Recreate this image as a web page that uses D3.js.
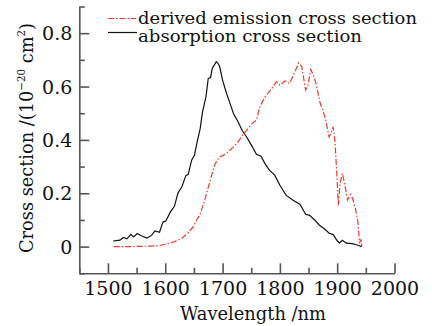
<!DOCTYPE html>
<html>
<head>
<meta charset="utf-8">
<script src="https://cdn.jsdelivr.net/npm/d3@7"></script>
<style>
  body { margin: 0; background: #fff; }
  svg text { font-family: "DejaVu Serif", "Liberation Serif", "Times New Roman", serif; fill: #111; }
</style>
</head>
<body>
<div id="chart"></div>
<script>
// Chart size
const width = 432;
const height = 326;

// Absorption cross section (black solid)
const absWave = [1509, 1521, 1527, 1533, 1540, 1545, 1551, 1559, 1568, 1576, 1582, 1590, 1596, 1601,
  1609, 1616, 1622, 1629, 1636, 1640, 1646, 1651, 1655, 1661, 1665, 1671, 1675, 1679, 1682, 1689,
  1692, 1695, 1700, 1707, 1713, 1719, 1727, 1734, 1742, 1752, 1759, 1767, 1774, 1782, 1791, 1800,
  1811, 1823, 1835, 1845, 1852, 1861, 1869, 1877, 1886, 1893, 1900, 1904, 1909, 1916, 1926, 1935, 1943];
const absVal = [0.021, 0.024, 0.034, 0.029, 0.046, 0.036, 0.049, 0.040, 0.032, 0.042, 0.059, 0.054, 0.092, 0.096,
  0.130, 0.151, 0.200, 0.224, 0.267, 0.270, 0.324, 0.343, 0.386, 0.443, 0.505, 0.561, 0.630, 0.634, 0.668, 0.693,
  0.687, 0.674, 0.624, 0.574, 0.537, 0.499, 0.468, 0.436, 0.411, 0.374, 0.346, 0.339, 0.311, 0.286, 0.268, 0.230,
  0.192, 0.174, 0.159, 0.121, 0.117, 0.099, 0.080, 0.068, 0.050, 0.045, 0.022, 0.014, 0.024, 0.013, 0.011, 0.006, 0.0];

// Derived emission cross section (red dash-dot)
const emWave = [1510, 1540, 1574, 1590, 1603, 1620, 1630, 1638, 1648, 1655, 1661, 1669, 1676, 1681, 1687,
  1695, 1707, 1719, 1727, 1735, 1742, 1751, 1759, 1765, 1774, 1779, 1788, 1794, 1800, 1809, 1817, 1826,
  1833, 1838, 1845, 1849, 1854, 1858, 1863, 1870, 1875, 1880, 1886, 1890, 1893, 1896, 1899, 1902, 1905,
  1909, 1913, 1918, 1923, 1927, 1932, 1936, 1939, 1941.5, 1943];
const emVal = [0, 0, 0.002, 0.004, 0.010, 0.022, 0.033, 0.047, 0.072, 0.100, 0.124, 0.175, 0.230, 0.268, 0.311,
  0.336, 0.349, 0.374, 0.392, 0.418, 0.436, 0.461, 0.474, 0.524, 0.561, 0.574, 0.599, 0.618, 0.605, 0.621, 0.612, 0.655,
  0.689, 0.676, 0.587, 0.605, 0.664, 0.645, 0.612, 0.540, 0.511, 0.474, 0.411, 0.430, 0.449, 0.399, 0.286, 0.155, 0.237,
  0.275, 0.236, 0.175, 0.196, 0.180, 0.140, 0.095, 0.012, 0.030, 0.0];

const xTicks = [1500, 1600, 1700, 1800, 1900, 2000];
const yTicks = [0, 0.2, 0.4, 0.6, 0.8];
const seriesNames = ["derived emission cross section", "absorption cross section"];

const x = d3.scaleLinear().domain([1450, 2000]).range([79.3, 394.5]);
const y = d3.scaleLinear().domain([-0.1, 0.9]).range([273.3, 6.5]);

const svg = d3.select("#chart").append("svg")
  .attr("width", width)
  .attr("height", height);

const axisColor = "#555";

// Axes with inward ticks
const xAxis = svg.append("g")
  .attr("transform", `translate(0,${y(-0.1)})`)
  .call(d3.axisBottom(x).tickValues(xTicks).tickSize(-10).tickSizeOuter(0).tickPadding(8).tickFormat(d3.format("d")));
svg.append("g")
  .attr("transform", `translate(0,${y(-0.1)})`)
  .call(d3.axisBottom(x).tickValues(d3.range(1450, 2000, 100)).tickSize(-5.5).tickSizeOuter(0).tickFormat(""))
  .select(".domain").remove();

const yAxis = svg.append("g")
  .attr("transform", `translate(${x(1450)},0)`)
  .call(d3.axisLeft(y).tickValues(yTicks).tickSize(-10).tickSizeOuter(0).tickPadding(7)
    .tickFormat(d => d === 0 ? "0" : d3.format(".1f")(d)));
svg.append("g")
  .attr("transform", `translate(${x(1450)},0)`)
  .call(d3.axisLeft(y).tickValues([-0.1, 0.1, 0.3, 0.5, 0.7, 0.9]).tickSize(-5.5).tickSizeOuter(0).tickFormat(""))
  .select(".domain").remove();

svg.selectAll("g").attr("font-family", null);
svg.selectAll(".domain").attr("stroke", axisColor).attr("stroke-width", 1.6);
svg.selectAll(".tick line").attr("stroke", axisColor).attr("stroke-width", 1.6);
svg.selectAll(".tick text")
  .style("font-size", "19px")
  .attr("fill", "#111");
xAxis.selectAll(".tick text").attr("dy", "0.71em");
yAxis.selectAll(".tick text").attr("dy", "0.35em");

// Curves
const line = d3.line().x(d => x(d[0])).y(d => y(d[1]));

svg.append("path")
  .datum(absWave.map((w, i) => [w, absVal[i]]))
  .attr("fill", "none")
  .attr("stroke", "#111")
  .attr("stroke-width", 1.2)
  .attr("d", line);

svg.append("path")
  .datum(emWave.map((w, i) => [w, emVal[i]]))
  .attr("fill", "none")
  .attr("stroke", "#ee3a2e")
  .attr("stroke-width", 1.2)
  .attr("stroke-dasharray", "6,2,1.5,2")
  .attr("d", line);

// Legend
const legend = svg.append("g");
legend.append("line")
  .attr("x1", 108).attr("x2", 136).attr("y1", 18.5).attr("y2", 18.5)
  .attr("stroke", "#ee3a2e").attr("stroke-width", 1.2).attr("stroke-dasharray", "6,2,1.5,2");
legend.append("line")
  .attr("x1", 108).attr("x2", 137).attr("y1", 32.5).attr("y2", 32.5)
  .attr("stroke", "#111").attr("stroke-width", 1.2);
legend.append("text")
  .attr("x", 138).attr("y", 23.5)
  .attr("font-size", 17)
  .attr("textLength", 279).attr("lengthAdjust", "spacingAndGlyphs")
  .text(seriesNames[0]);
legend.append("text")
  .attr("x", 138).attr("y", 42)
  .attr("font-size", 17)
  .attr("textLength", 224).attr("lengthAdjust", "spacingAndGlyphs")
  .text(seriesNames[1]);

// Axis titles
svg.append("text")
  .attr("x", 180).attr("y", 320)
  .attr("font-size", 19)
  .attr("textLength", 146).attr("lengthAdjust", "spacingAndGlyphs")
  .text("Wavelength /nm");

const yTitle = svg.append("text")
  .attr("transform", "translate(33,138) rotate(-90)")
  .attr("text-anchor", "middle")
  .attr("font-size", 19)
  .attr("textLength", 230).attr("lengthAdjust", "spacingAndGlyphs");
yTitle.append("tspan").text("Cross section /(10");
yTitle.append("tspan").attr("font-size", 11).attr("dy", -8).text("\u221220");
yTitle.append("tspan").attr("dy", 8).text(" cm");
yTitle.append("tspan").attr("font-size", 11).attr("dy", -8).text("2");
yTitle.append("tspan").attr("dy", 8).text(")");
</script>
</body>
</html>
